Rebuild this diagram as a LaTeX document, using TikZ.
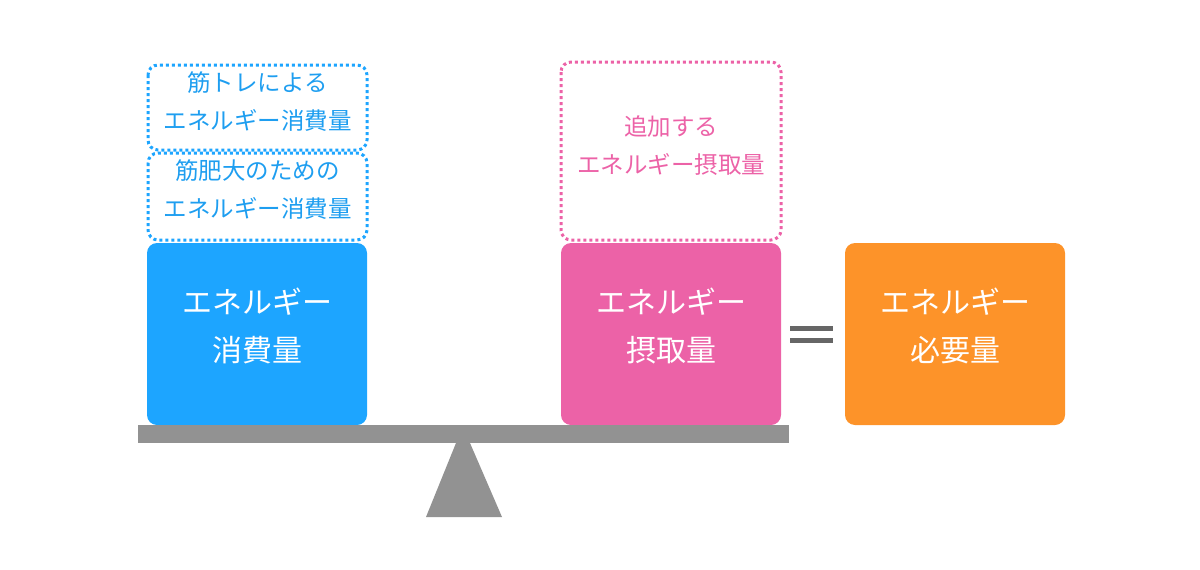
\documentclass[tikz,border=0pt]{standalone}
\usepackage{fontspec}
\newfontfamily\cjk{Noto Sans CJK JP}
\definecolor{cblue}{RGB}{29,165,255}
\definecolor{cbluet}{RGB}{30,158,240}
\definecolor{cpink}{RGB}{236,98,167}
\definecolor{corange}{RGB}{253,147,41}
\definecolor{cgrey}{RGB}{146,146,146}
\definecolor{cdark}{RGB}{102,102,102}
\tikzset{
  dotbox/.style={line width=3pt, dash pattern=on 3pt off 3pt, rounded corners=10pt, fill=none},
  bigtext/.style={text=white, align=center, inner sep=0pt, font=\cjk\fontsize{30}{48}\selectfont},
  smalltext/.style={align=center, inner sep=0pt, font=\cjk\fontsize{23.5}{38}\selectfont},
}
\begin{document}
\begin{tikzpicture}[x=1pt,y=-1pt]
\useasboundingbox (0,0) rectangle (1200,570);
% solid boxes
\fill[cblue, rounded corners=10pt] (147,243) rectangle (367,425);
\fill[cpink, rounded corners=10pt] (561,243) rectangle (781,425);
\fill[corange, rounded corners=10pt] (845,243) rectangle (1065,425);
\node[bigtext] (t1) at (257,326) {エネルギー\\消費量};
\node[bigtext] (t2) at (671,326) {エネルギー\\摂取量};
\node[bigtext] (t3) at (955,326) {エネルギー\\必要量};
% dotted boxes
\draw[dotbox, draw=cblue] (148,65) rectangle (367,150);
\draw[dotbox, draw=cblue] (148,153) rectangle (367,240);
\draw[dotbox, draw=cpink] (561,62) rectangle (781,240);
\node[smalltext, text=cbluet] (d1) at (257.5,102) {筋トレによる\\エネルギー消費量};
\node[smalltext, text=cbluet] (d2) at (257.5,190) {筋肥大のための\\エネルギー消費量};
\node[smalltext, text=cpink] (d3) at (671,146) {追加する\\エネルギー摂取量};
% balance
\fill[cgrey] (138,425) rectangle (789,443);
\fill[cgrey] (456,443) -- (470,443) -- (502,517) -- (426,517) -- cycle;
% equals
\fill[cdark] (790,325.5) rectangle (833,330.5);
\fill[cdark] (790,337.5) rectangle (833,342.5);
\end{tikzpicture}
\end{document}
